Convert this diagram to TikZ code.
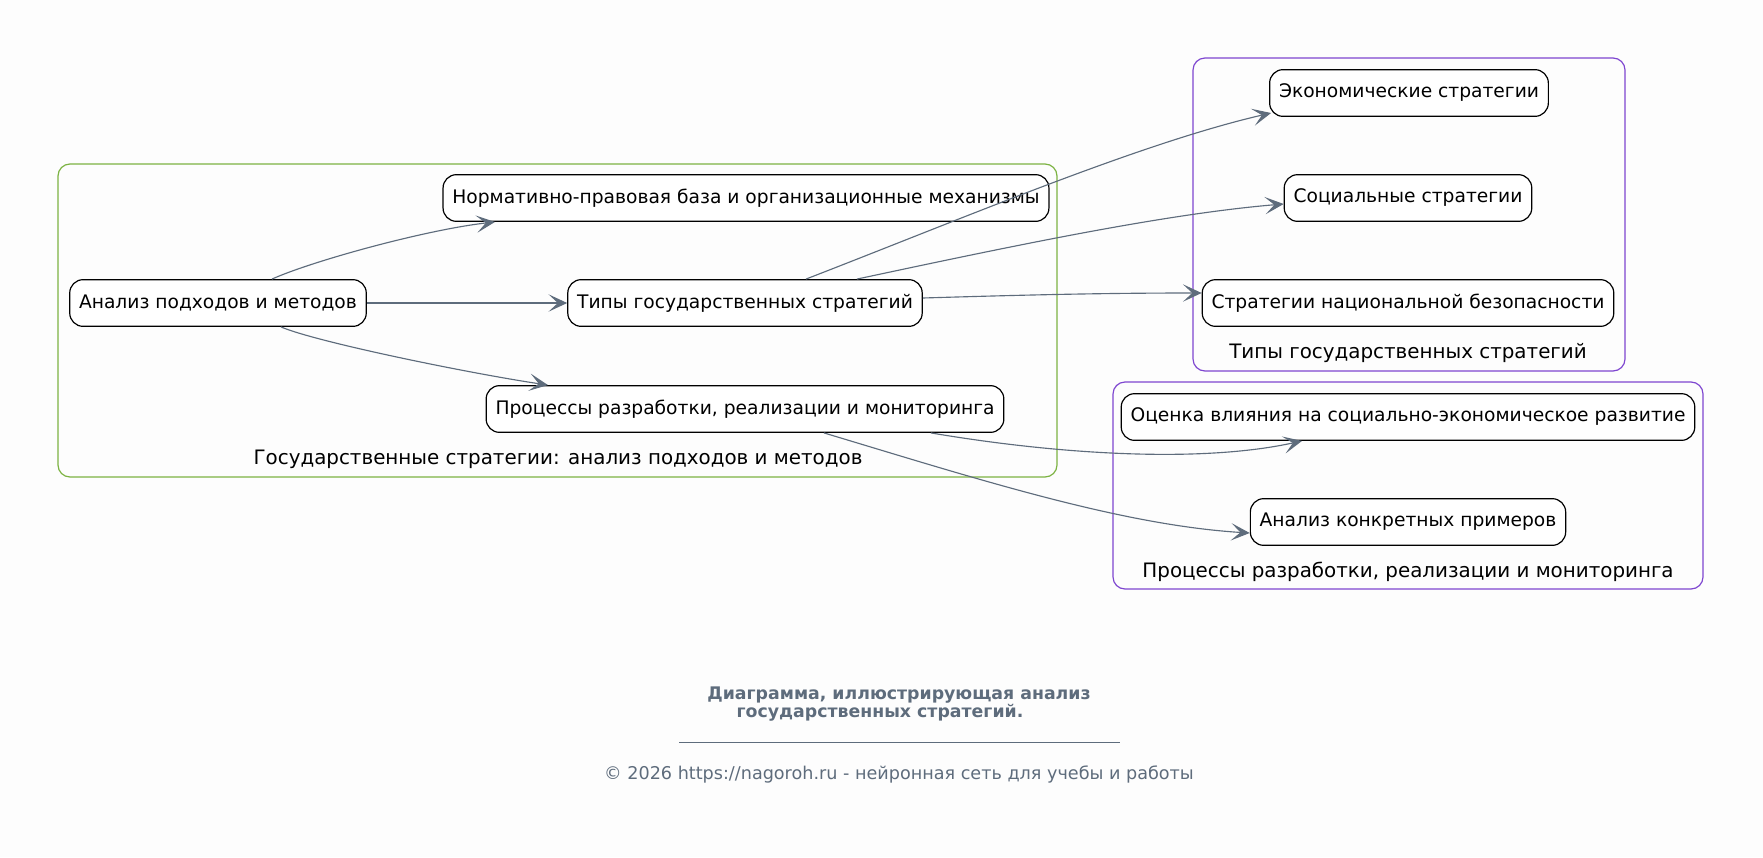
\documentclass[tikz,border=0pt]{standalone}
\usepackage{fontspec}
\setmainfont{DejaVu Sans}
\usepackage{tikz}
\usetikzlibrary{arrows.meta, calc}

\definecolor{slate}{RGB}{94,108,124}
\definecolor{leaf}{RGB}{124,179,66}
\definecolor{violet}{RGB}{126,70,208}
\definecolor{paper}{RGB}{253,253,253}

\tikzset{
  stratbox/.style={draw=black, line width=0.9pt, fill=white, rounded corners=10pt,
    minimum height=35pt, inner xsep=7pt, font=\fontsize{14}{16}\selectfont},
  grouplabel/.style={font=\fontsize{14.9}{17}\selectfont},
  link/.style={draw=slate, line width=0.85pt,
    -{Stealth[length=14pt, width=13pt, inset=7pt]}},
}

\begin{document}
\begin{tikzpicture}[x=0.75pt, y=-0.75pt]
\fill[paper] (0,0) rectangle (1763,857);
\useasboundingbox (0,0) rectangle (1763,857);

% groups
\draw[leaf, line width=0.9pt, rounded corners=9pt] (58,164) rectangle (1057,477);
\draw[violet, line width=0.9pt, rounded corners=9pt] (1193,58) rectangle (1625,371);
\draw[violet, line width=0.9pt, rounded corners=9pt] (1113,382) rectangle (1703,589);
\node[grouplabel] (gmain) at (558,459) {Государственные стратегии: анализ подходов и методов};
\node[grouplabel] (gtypes) at (1408,353) {Типы государственных стратегий};
\node[grouplabel] (gproc) at (1408,572) {Процессы разработки, реализации и мониторинга};

% nodes
\node[stratbox] (analiz) at (218,303) {Анализ подходов и методов};
\node[stratbox] (norm) at (746,198) {Нормативно-правовая база и организационные механизмы};
\node[stratbox] (tipy) at (745,303) {Типы государственных стратегий};
\node[stratbox] (proc) at (745,409) {Процессы разработки, реализации и мониторинга};
\node[stratbox] (econ) at (1409,93) {Экономические стратегии};
\node[stratbox] (soc) at (1408,198) {Социальные стратегии};
\node[stratbox] (bez) at (1408,303) {Стратегии национальной безопасности};
\node[stratbox] (ocenka) at (1408,417) {Оценка влияния на социально-экономическое развитие};
\node[stratbox] (primer) at (1408,522) {Анализ конкретных примеров};

% links
\draw[link] ($(analiz.north)+(54,0)$) .. controls +(40,-18) and +(-70,8) .. ($(norm.south)+(-251,0)$);
\draw[link] (analiz.east) -- (tipy.west);
\draw[link] ($(analiz.south)+(63,0)$) .. controls +(35,15) and +(-80,-12) .. ($(proc.north)+(-197,0)$);
\draw[link] ($(tipy.north)+(61,0)$) .. controls +(160,-62) and +(-130,30) .. ($(econ.west)+(2,20)$);
\draw[link] ($(tipy.north)+(112,0)$) .. controls +(150,-32) and +(-120,10) .. ($(soc.west)+(0,6)$);
\draw[link] ($(tipy.east)+(0,-5)$) .. controls +(100,-3) and +(-100,0) .. ($(bez.west)+(0,-10)$);
\draw[link] ($(proc.south)+(186,0)$) .. controls +(130,22) and +(-100,22) .. ($(ocenka.south)+(-106,0)$);
\draw[link] ($(proc.south)+(79,0)$) .. controls +(150,45) and +(-130,-8) .. ($(primer.west)+(0,11)$);

% caption
\node[slate, font=\fontsize{13}{15}\selectfont\bfseries] (cap1) at (899,695) {Диаграмма, иллюстрирующая анализ};
\node[slate, font=\fontsize{13}{15}\selectfont\bfseries] (cap2) at (880,713) {государственных стратегий.};
\draw[slate, line width=0.5pt] (679,742) -- (1120,742);
\node[slate, font=\fontsize{13.2}{15}\selectfont] (foot) at (899,774) {© 2026 https://nagoroh.ru - нейронная сеть для учебы и работы};
\end{tikzpicture}
\end{document}
